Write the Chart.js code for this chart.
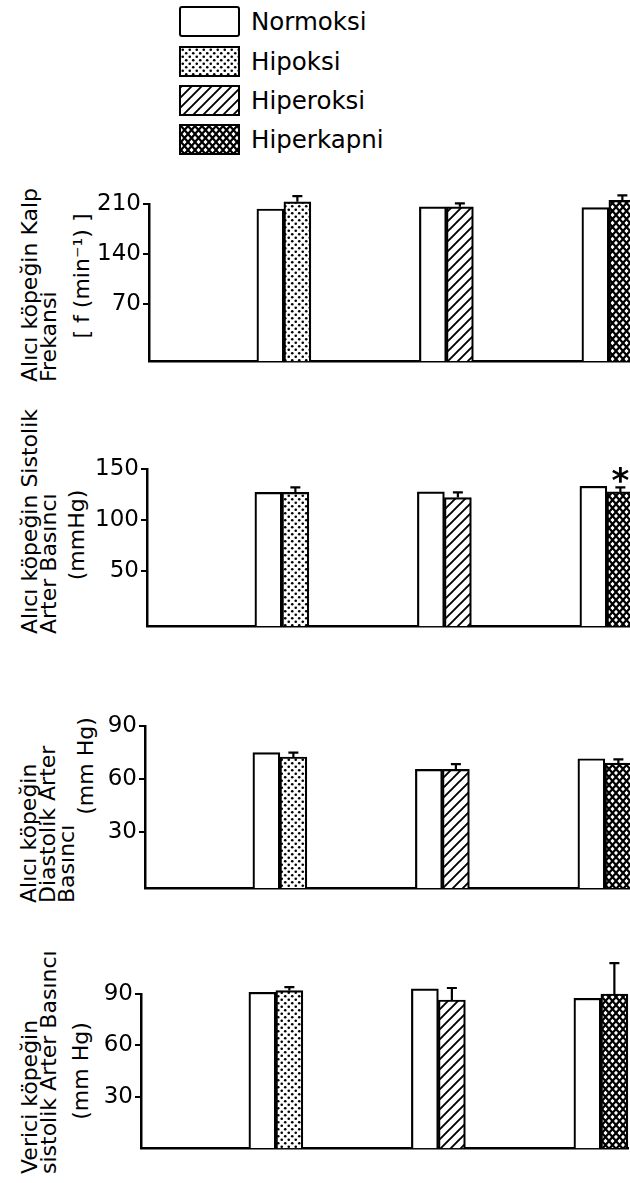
<!DOCTYPE html>
<html>
<head>
<meta charset="utf-8">
<script src="https://cdn.jsdelivr.net/npm/chart.js@4.4.0/dist/chart.umd.min.js"></script>
<style>
  body { margin: 0; background: #fff; }
  #page { position: relative; width: 630px; height: 1183px; overflow: hidden; font-family: 'DejaVu Sans', sans-serif; color: #000; }
  .legend-item { position: absolute; left: 179px; height: 32px; display: flex; align-items: center; font-size: 24.5px; white-space: nowrap; }
  .swatch { width: 57px; height: 27px; border: 2.5px solid #000; background-color: #fff; margin-right: 11px; }
  .rot { position: absolute; transform-origin: 0 0; transform: rotate(-90deg); white-space: nowrap; font-size: 22px; line-height: 19px; }
</style>
</head>
<body>
<div id="page"></div>
<script>
// Treatment groups (each compared with its own normoxic control)
const groups = ['Hipoksi', 'Hiperoksi', 'Hiperkapni'];
const groupX = [1, 2, 3];

// Alıcı köpeğin kalp frekansı (min-1)
const hrNormoksi = [203, 206, 205];
const hrTreatment = [213, 206, 215];
const hrError = [8, 5, 7];
const hrTicks = [70, 140, 210];

// Alıcı köpeğin sistolik arter basıncı (mmHg)
const sbpNormoksi = [127, 127.5, 133];
const sbpTreatment = [127, 122, 127.5];
const sbpError = [5, 5, 4.5];
const sbpTicks = [50, 100, 150];
const sbpSignificant = [false, false, true];

// Alıcı köpeğin diastolik arter basıncı (mmHg)
const dbpNormoksi = [75, 65.5, 71.5];
const dbpTreatment = [72.5, 65.5, 69];
const dbpError = [2.5, 3, 2.2];
const dbpTicks = [30, 60, 90];

// Verici köpeğin sistolik arter basıncı (mm Hg)
const donorNormoksi = [91, 93, 87.5];
const donorTreatment = [92, 86.5, 90];
const donorError = [2, 7, 18];
const donorTicks = [30, 60, 90];

const panels = [
  { normoksi: hrNormoksi, treatment: hrTreatment, error: hrError, ticks: hrTicks, stars: [false, false, false] },
  { normoksi: sbpNormoksi, treatment: sbpTreatment, error: sbpError, ticks: sbpTicks, stars: sbpSignificant },
  { normoksi: dbpNormoksi, treatment: dbpTreatment, error: dbpError, ticks: dbpTicks, stars: [false, false, false] },
  { normoksi: donorNormoksi, treatment: donorTreatment, error: donorError, ticks: donorTicks, stars: [false, false, false] }
];

// page placement of each plot (axis corner, top tick, baseline) and the value at the baseline
const frames = [
  { left: 149, top: 204, bottom: 361, yMin: -10 },
  { left: 147, top: 469, bottom: 626, yMin: -4 },
  { left: 145, top: 726, bottom: 888, yMin: -1.5 },
  { left: 141, top: 994, bottom: 1148, yMin: 0 }
];
const xMin = 0.17, xMax = 3.17, groupSpacing = 162.5;

const page = document.getElementById('page');

// fill patterns
function tile(w, h, draw) {
  const c = document.createElement('canvas');
  c.width = w; c.height = h;
  const g = c.getContext('2d');
  g.fillStyle = '#fff';
  g.fillRect(0, 0, w, h);
  g.fillStyle = '#000';
  g.strokeStyle = '#000';
  draw(g);
  return c;
}
const dotTile = tile(7, 7, g => {
  [[1.75, 1.75], [5.25, 5.25]].forEach(([x, y]) => {
    g.beginPath(); g.arc(x, y, 1.3, 0, Math.PI * 2); g.fill();
  });
});
const hatchTile = tile(10, 10, g => {
  g.lineWidth = 1.9;
  g.beginPath();
  g.moveTo(0, 10); g.lineTo(10, 0);
  g.moveTo(-5, 5); g.lineTo(5, -5);
  g.moveTo(5, 15); g.lineTo(15, 5);
  g.stroke();
});
const crossTile = tile(7, 8, g => {
  g.lineWidth = 2.2;
  g.beginPath();
  g.moveTo(0, 0); g.lineTo(7, 8);
  g.moveTo(7, 0); g.lineTo(0, 8);
  g.stroke();
});
const patCtx = document.createElement('canvas').getContext('2d');
const fills = [dotTile, hatchTile, crossTile].map(t => patCtx.createPattern(t, 'repeat'));

// legend
const legendTops = [5, 45, 84, 123];
['Normoksi'].concat(groups).forEach((name, i) => {
  const item = document.createElement('div');
  item.className = 'legend-item';
  item.style.top = legendTops[i] + 'px';
  const sw = document.createElement('div');
  sw.className = 'swatch';
  if (i === 0) sw.style.borderRadius = '3px';
  else sw.style.backgroundImage = 'url(' + [dotTile, hatchTile, crossTile][i - 1].toDataURL() + ')';
  item.appendChild(sw);
  const label = document.createElement('span');
  label.textContent = name;
  item.appendChild(label);
  page.appendChild(item);
});

// rotated axis titles
const titleBlocks = [
  { lines: ['Alıcı köpeğin Kalp', 'Frekansi'], x: 20, y: 382 },
  { lines: ['[ f (min⁻¹) ]'], x: 72, y: 276, center: true },
  { lines: ['Alıcı köpeğin Sistolik', 'Arter Basıncı'], x: 20, y: 634 },
  { lines: ['(mmHg)'], x: 67, y: 535, center: true },
  { lines: ['Alıcı köpeğin', 'Diastolik Arter', 'Basıncı'], x: 19, y: 903 },
  { lines: ['(mm Hg)'], x: 76, y: 766, center: true },
  { lines: ['Verici köpeğin', 'sistolik Arter Basıncı'], x: 20, y: 1174 },
  { lines: ['(mm Hg)'], x: 71, y: 1071, center: true }
];
titleBlocks.forEach(b => {
  const d = document.createElement('div');
  d.className = 'rot';
  d.innerHTML = b.lines.join('<br>');
  d.style.left = b.x + 'px';
  if (b.center) {
    d.style.width = '200px';
    d.style.textAlign = 'center';
    d.style.top = (b.y + 100) + 'px';
  } else {
    d.style.top = b.y + 'px';
  }
  page.appendChild(d);
});

// error bars and significance mark
const errorBars = {
  id: 'errorBars',
  afterDatasetsDraw(chart) {
    const ctx = chart.ctx;
    const yScale = chart.scales.y;
    chart.data.datasets.forEach((ds, di) => {
      if (!ds.errors) return;
      chart.getDatasetMeta(di).data.forEach((bar, i) => {
        const e = ds.errors[i];
        const v = ds.data[i].y;
        if (e == null || v == null) return;
        const yTop = yScale.getPixelForValue(v + e);
        ctx.save();
        ctx.strokeStyle = '#000';
        ctx.lineWidth = 2.2;
        ctx.beginPath();
        ctx.moveTo(bar.x, bar.y);
        ctx.lineTo(bar.x, yTop);
        ctx.moveTo(bar.x - 5, yTop);
        ctx.lineTo(bar.x + 5, yTop);
        ctx.stroke();
        if (ds.stars[i]) {
          ctx.fillStyle = '#000';
          ctx.font = 'bold 34px "DejaVu Sans"';
          ctx.textAlign = 'center';
          const m = ctx.measureText('*');
          const mid = (m.actualBoundingBoxAscent - m.actualBoundingBoxDescent) / 2;
          ctx.fillText('*', bar.x, yTop - 12 + mid);
        }
        ctx.restore();
      });
    });
  }
};

panels.forEach((p, n) => {
  const f = frames[n];
  const padTop = 45, padBottom = 20;
  const canvas = document.createElement('canvas');
  canvas.width = 640;
  canvas.height = f.bottom - f.top + padTop + padBottom;
  canvas.style.position = 'absolute';
  canvas.style.left = '0px';
  canvas.style.top = (f.top - padTop) + 'px';
  page.appendChild(canvas);

  const datasets = [{
    label: 'Normoksi',
    data: groupX.map((x, i) => ({ x: x, y: p.normoksi[i] })),
    backgroundColor: '#fff'
  }];
  groups.forEach((name, k) => {
    datasets.push({
      label: name,
      data: groupX.map((x, i) => ({ x: x, y: i === k ? p.treatment[i] : null })),
      errors: groupX.map((x, i) => i === k ? p.error[i] : null),
      stars: p.stars,
      backgroundColor: fills[k]
    });
  });

  const chart = new Chart(canvas, {
    type: 'bar',
    data: { datasets: datasets },
    options: {
      responsive: false,
      animation: false,
      layout: { padding: { left: 0, top: padTop, bottom: padBottom, right: 640 - f.left - (xMax - xMin) * groupSpacing } },
      plugins: { legend: { display: false }, tooltip: { enabled: false } },
      datasets: {
        bar: {
          grouped: true,
          skipNull: true,
          barThickness: 27,
          borderWidth: 2.2,
          borderColor: '#000',
          base: f.yMin,
          clip: false
        }
      },
      scales: {
        x: {
          type: 'linear',
          offset: false,
          min: xMin,
          max: xMax,
          grid: { display: false, offset: false },
          ticks: { display: false },
          border: { display: true, color: '#000', width: 2.5 },
          afterFit: s => { s.height = 0; }
        },
        y: {
          min: f.yMin,
          max: p.ticks[p.ticks.length - 1],
          afterBuildTicks: s => { s.ticks = p.ticks.map(v => ({ value: v })); },
          afterFit: s => { s.width = f.left; },
          grid: { drawOnChartArea: false, drawTicks: true, tickLength: 6, color: '#000', lineWidth: 2 },
          border: { display: true, color: '#000', width: 2.5 },
          ticks: { color: '#000', padding: 2, font: { family: 'DejaVu Sans', size: 23 } }
        }
      }
    },
    plugins: [errorBars]
  });
  canvas.style.top = (f.top - chart.chartArea.top) + 'px';
});
</script>
</body>
</html>
